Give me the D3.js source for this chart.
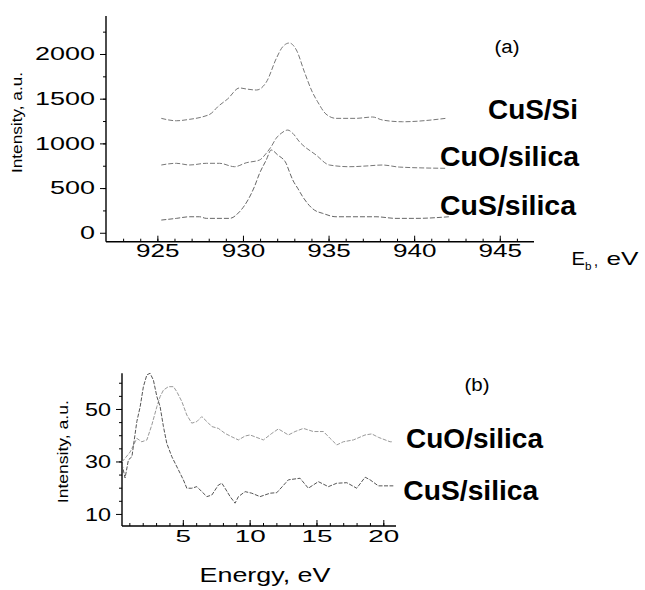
<!DOCTYPE html>
<html>
<head>
<meta charset="utf-8">
<script src="https://cdn.jsdelivr.net/npm/d3@7"></script>
<style>
body { margin: 0; background: #fff; }
text { font-family: "Liberation Sans", Arial, sans-serif; fill: #000; }
.domain { stroke: #000; stroke-width: 1.4; }
.tick line { stroke: #000; stroke-width: 1; }
.curve { fill: none; stroke-linejoin: round; }
</style>
</head>
<body>
<svg id="chart" width="645" height="590"></svg>
<script>
// (a) XPS Cu 2p spectra, binding energy in eV
var xpsCuSSi_x = [925.23, 926.11, 926.88, 927.66, 928.15, 928.53, 929.10, 929.80, 930.21, 930.79,
    931.37, 931.96, 932.31, 932.71, 933.12, 933.59, 934.05, 934.36, 934.85, 935.44,
    936.60, 937.57, 938.15, 939.32, 941.85];
var xpsCuSSi_y = [1280, 1253, 1269, 1298, 1336, 1410, 1496, 1620, 1608, 1597,
    1687, 1955, 2078, 2123, 2045, 1799, 1575, 1466, 1328, 1280,
    1280, 1295, 1261, 1242, 1280];

var xpsCuO_x = [925.23, 926.11, 926.88, 927.86, 928.63, 929.51, 930.19, 930.97, 931.36, 931.65,
    931.94, 932.23, 932.62, 932.91, 933.30, 934.27, 935.05, 936.21, 937.19, 938.15,
    939.13, 941.85];
var xpsCuO_y = [758, 777, 758, 777, 777, 739, 783, 814, 889, 963,
    1057, 1112, 1149, 1112, 1018, 870, 758, 739, 747, 758,
    735, 721];

var xpsCuS_x = [925.23, 926.11, 926.88, 927.47, 927.86, 929.22, 929.80, 930.29, 930.67, 930.97,
    931.36, 931.65, 932.03, 932.52, 932.71, 932.91, 933.20, 933.49, 934.17, 934.66,
    935.44, 936.41, 937.77, 938.94, 940.10, 942.04];
var xpsCuS_y = [142, 161, 179, 179, 161, 161, 235, 366, 515, 665,
    814, 926, 870, 777, 683, 590, 497, 403, 254, 217,
    179, 179, 179, 161, 161, 179];

// (b) energy loss spectra
var elsCuO_x = [0.45, 1.06, 1.56, 1.93, 2.31, 2.68, 3.06, 3.30, 3.55, 3.92,
    4.30, 4.55, 4.93, 5.30, 5.67, 6.05, 6.42, 6.80, 7.17, 7.66,
    8.16, 8.66, 9.16, 9.66, 10.03, 11.03, 11.66, 12.15, 12.90, 13.40,
    14.02, 14.77, 15.52, 16.02, 16.52, 17.01, 17.76, 18.64, 19.14, 19.63,
    20.51, 20.73];
var elsCuO_y = [29.8, 33.6, 38.8, 37.5, 38.2, 43.9, 50.9, 54.7, 57.2, 58.5,
    58.5, 56.6, 52.8, 47.7, 44.6, 45.2, 47.1, 45.2, 43.3, 42.6,
    40.7, 39.4, 38.2, 39.7, 40.1, 38.2, 40.7, 42.4, 40.1, 41.4,
    42.6, 41.4, 41.4, 38.8, 36.3, 37.5, 38.2, 40.1, 40.5, 39.2,
    37.5, 37.5];

var elsCuS_x = [0.45, 0.68, 0.93, 1.19, 1.56, 1.81, 2.05, 2.31, 2.55, 2.80,
    3.06, 3.30, 3.55, 3.80, 4.18, 4.67, 5.04, 5.30, 5.67, 6.05,
    6.42, 6.80, 7.17, 7.66, 7.92, 8.16, 8.54, 8.91, 9.16, 9.66,
    10.16, 10.78, 11.53, 12.03, 12.90, 13.77, 14.39, 15.14, 15.89, 16.52,
    17.27, 18.01, 18.64, 19.01, 19.63, 20.75];
var elsCuS_y = [29.0, 23.7, 30.6, 31.8, 45.2, 50.9, 58.5, 63.0, 63.6, 61.0,
    54.7, 50.9, 43.3, 36.9, 31.8, 26.8, 23.0, 19.8, 19.8, 20.4,
    18.5, 16.6, 17.2, 21.0, 21.7, 19.8, 16.6, 14.1, 16.6, 18.5,
    17.9, 16.6, 17.9, 18.1, 23.0, 23.6, 19.8, 22.3, 20.4, 21.7,
    21.9, 19.8, 24.0, 23.0, 20.7, 20.7];

var topXTicks = [925, 930, 935, 940, 945];
var topYTicks = [0, 500, 1000, 1500, 2000];
var botXTicks = [5, 10, 15, 20];
var botYTicks = [10, 30, 50];

var svg = d3.select("#chart");
svg.append("rect").attr("width", 645).attr("height", 590).attr("fill", "#fff");

var fmt = d3.format("d");

function zip(xs, ys) {
    return xs.map(function (x, i) { return [x, ys[i]]; });
}

// stretch tick labels to the wide lettering of the original
function widen(sel, perChar) {
    sel.selectAll(".tick text")
        .attr("textLength", function (d) { return fmt(d).length * perChar; })
        .attr("lengthAdjust", "spacingAndGlyphs");
}

/**
* One panel: axes with inward x ticks, outward y ticks, minor ticks and curves
**/
function drawPanel(o) {
    var g = svg.append("g");
    var x = d3.scaleLinear().domain(o.xDomain).range(o.xRange);
    var y = d3.scaleLinear().domain(o.yDomain).range(o.yRange);

    // minor ticks first, no domain line
    var xMinor = g.append("g")
        .attr("transform", "translate(0," + o.yRange[0] + ")")
        .call(d3.axisBottom(x).tickValues(o.xMinor).tickSize(-3).tickFormat(""));
    xMinor.select(".domain").remove();
    var yMinor = g.append("g")
        .attr("transform", "translate(" + o.xRange[0] + ",0)")
        .call(d3.axisLeft(y).tickValues(o.yMinor).tickSize(3).tickFormat(""));
    yMinor.select(".domain").remove();

    var xAxis = g.append("g")
        .attr("transform", "translate(0," + o.yRange[0] + ")")
        .call(d3.axisBottom(x).tickValues(o.xTicks).tickSize(-6).tickSizeOuter(0)
            .tickPadding(o.xPad).tickFormat(fmt));
    xAxis.selectAll(".tick text").style("font-size", o.xFont + "px");
    widen(xAxis, o.xChar);

    var yAxis = g.append("g")
        .attr("transform", "translate(" + o.xRange[0] + ",0)")
        .call(d3.axisLeft(y).tickValues(o.yTicks).tickSize(6).tickSizeOuter(0)
            .tickPadding(o.yPad).tickFormat(fmt));
    yAxis.selectAll(".tick text").style("font-size", o.yFont + "px");
    widen(yAxis, o.yChar);

    xAxis.select(".domain").attr("d", "M" + o.xRange[0] + ",0H" + o.xRange[1]);
    yAxis.select(".domain").attr("d", "M0," + o.yRange[0] + "V" + o.yRange[1]);

    var line = d3.line()
        .x(function (d) { return x(d[0]); })
        .y(function (d) { return y(d[1]); })
        .curve(o.curve);

    o.series.forEach(function (s) {
        g.append("path")
            .attr("class", "curve")
            .attr("d", line(s.data))
            .attr("stroke", s.color)
            .attr("stroke-width", 1)
            .attr("stroke-dasharray", s.dash);
    });
    return g;
}

drawPanel({
    xDomain: [922, 947], xRange: [106, 534],
    yDomain: [-100, 2425], yRange: [241.7, 16],
    xTicks: topXTicks, yTicks: topYTicks,
    xMinor: d3.range(923, 947, 1), yMinor: d3.range(250, 2400, 250),
    xFont: 17.5, xChar: 14.5, xPad: 3,
    yFont: 18, yChar: 15, yPad: 5,
    curve: d3.curveMonotoneX,
    series: [
        { data: zip(xpsCuSSi_x, xpsCuSSi_y), color: "#777", dash: "5,2" },
        { data: zip(xpsCuO_x, xpsCuO_y), color: "#777", dash: "5,2" },
        { data: zip(xpsCuS_x, xpsCuS_y), color: "#666", dash: "5,2" }
    ]
});

drawPanel({
    xDomain: [0.45, 20.95], xRange: [122, 396],
    yDomain: [5.4, 63.6], yRange: [526, 373.3],
    xTicks: botXTicks, yTicks: botYTicks,
    xMinor: d3.range(1, 21, 1), yMinor: d3.range(15, 63, 5),
    xFont: 16.5, xChar: 15.5, xPad: 4,
    yFont: 19, yChar: 13, yPad: 5,
    curve: d3.curveLinear,
    series: [
        { data: zip(elsCuO_x, elsCuO_y), color: "#999", dash: "4,1.5" },
        { data: zip(elsCuS_x, elsCuS_y), color: "#555", dash: "4,1.5" }
    ]
});

function label(x, y, txt, size, len, anchor, bold) {
    return svg.append("text")
        .attr("x", x).attr("y", y)
        .attr("text-anchor", anchor || "start")
        .attr("textLength", len)
        .attr("lengthAdjust", "spacingAndGlyphs")
        .style("font-size", size + "px")
        .style("font-weight", bold ? "bold" : "normal")
        .text(txt);
}

// texts of panel (a)
label(507, 53, "(a)", 18, 25, "middle");
label(578, 119, "CuS/Si", 27, 90, "end", true);
label(579, 165.7, "CuO/silica", 27, 139, "end", true);
label(576, 215, "CuS/silica", 27, 136, "end", true);

label(571.5, 265, "E", 18.6, 13.5);
label(585, 270, "b", 11, 6.5);
label(594, 266, ",", 16, 4);
label(606.5, 265, "eV", 18.6, 32);

svg.append("text")
    .attr("transform", "translate(22,122.5) rotate(-90)")
    .attr("text-anchor", "middle")
    .attr("textLength", 101)
    .attr("lengthAdjust", "spacingAndGlyphs")
    .style("font-size", "14px")
    .text("Intensity, a.u.");

// texts of panel (b)
label(477, 391, "(b)", 18, 25, "middle");
label(406, 448, "CuO/silica", 27, 137, "start", true);
label(403.3, 500, "CuS/silica", 27, 135, "start", true);
label(199.5, 582, "Energy, eV", 19.5, 131);

svg.append("text")
    .attr("transform", "translate(68,451.7) rotate(-90)")
    .attr("text-anchor", "middle")
    .attr("textLength", 103)
    .attr("lengthAdjust", "spacingAndGlyphs")
    .style("font-size", "15px")
    .text("Intensity, a.u.");
</script>
</body>
</html>
